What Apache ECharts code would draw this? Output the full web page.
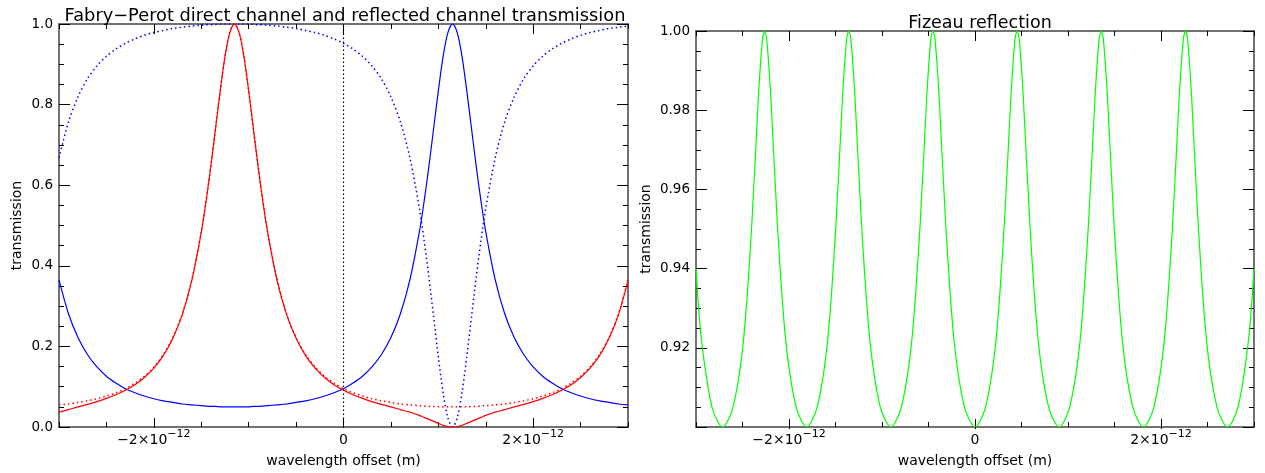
<!DOCTYPE html>
<html>
<head>
<meta charset="utf-8">
<script src="https://cdn.jsdelivr.net/npm/echarts@6.0.0/dist/echarts.min.js"></script>
<style>
  html, body { margin: 0; padding: 0; background: #fff; }
  #chart { width: 1265px; height: 473px; }
</style>
</head>
<body>
<div id="chart"></div>
<script>
// wavelength offset in units of 1e-12 m
const fpX = [-3.0, -2.9, -2.8, -2.7, -2.6, -2.5, -2.4, -2.3, -2.2, -2.1, -2.0, -1.9, -1.8, -1.7, -1.6, -1.5,
  -1.45, -1.4, -1.35, -1.3, -1.25, -1.2, -1.15, -1.1, -1.05, -1.0, -0.95, -0.9, -0.85,
  -0.8, -0.7, -0.6, -0.5, -0.4, -0.3, -0.2, -0.1, 0.0, 0.1, 0.2, 0.3, 0.4, 0.5, 0.6, 0.7, 0.8,
  0.85, 0.9, 0.95, 1.0, 1.05, 1.1, 1.15, 1.2, 1.25, 1.3, 1.35, 1.4, 1.45,
  1.5, 1.6, 1.7, 1.8, 1.9, 2.0, 2.1, 2.2, 2.3, 2.4, 2.5, 2.6, 2.7, 2.8, 2.9, 3.0];

// direct channel (solid red)
const fpRedSolid = [0.037, 0.043, 0.050, 0.056, 0.063, 0.071, 0.080, 0.091, 0.105, 0.123, 0.146, 0.177, 0.220, 0.279, 0.363, 0.483,
  0.559, 0.645, 0.739, 0.834, 0.919, 0.978, 1.000, 0.978, 0.919, 0.834, 0.739, 0.645, 0.559,
  0.483, 0.363, 0.279, 0.220, 0.177, 0.146, 0.123, 0.105, 0.091, 0.080, 0.071, 0.063, 0.056, 0.050, 0.043, 0.037, 0.029,
  0.024, 0.019, 0.014, 0.009, 0.004, 0.001, 0.000, 0.001, 0.004, 0.009, 0.014, 0.019, 0.024,
  0.029, 0.037, 0.043, 0.050, 0.056, 0.063, 0.071, 0.080, 0.091, 0.105, 0.123, 0.146, 0.177, 0.220, 0.279, 0.363];

const fpRedDotted = [0.055, 0.057, 0.061, 0.065, 0.070, 0.077, 0.085, 0.095, 0.109, 0.126, 0.149, 0.180, 0.222, 0.281, 0.365, 0.484,
  0.560, 0.646, 0.740, 0.834, 0.919, 0.978, 1.000, 0.978, 0.919, 0.834, 0.740, 0.646, 0.560,
  0.484, 0.365, 0.281, 0.222, 0.180, 0.149, 0.126, 0.109, 0.095, 0.085, 0.077, 0.070, 0.065, 0.061, 0.057, 0.055, 0.053,
  0.052, 0.051, 0.051, 0.050, 0.050, 0.050, 0.050, 0.050, 0.050, 0.050, 0.051, 0.051, 0.052,
  0.053, 0.055, 0.057, 0.061, 0.065, 0.070, 0.077, 0.085, 0.095, 0.109, 0.126, 0.149, 0.180, 0.222, 0.281, 0.365];

// reflected channel (blue)
const fpBlueSolid = [0.365, 0.281, 0.222, 0.180, 0.149, 0.126, 0.109, 0.095, 0.085, 0.077, 0.070, 0.065, 0.061, 0.057, 0.055, 0.053,
  0.052, 0.051, 0.051, 0.050, 0.050, 0.050, 0.050, 0.050, 0.050, 0.050, 0.051, 0.051, 0.052,
  0.053, 0.055, 0.057, 0.061, 0.065, 0.070, 0.077, 0.085, 0.095, 0.109, 0.126, 0.149, 0.180, 0.222, 0.281, 0.365, 0.484,
  0.560, 0.646, 0.740, 0.834, 0.919, 0.978, 1.000, 0.978, 0.919, 0.834, 0.740, 0.646, 0.560,
  0.484, 0.365, 0.281, 0.222, 0.180, 0.149, 0.126, 0.109, 0.095, 0.085, 0.077, 0.070, 0.065, 0.061, 0.057, 0.055];

const fpBlueDotted = [0.668, 0.757, 0.819, 0.864, 0.896, 0.920, 0.938, 0.952, 0.963, 0.972, 0.979, 0.984, 0.989, 0.992, 0.995, 0.997,
  0.998, 0.998, 0.999, 1.000, 1.000, 1.000, 1.000, 1.000, 1.000, 1.000, 0.999, 0.998, 0.998,
  0.997, 0.995, 0.992, 0.989, 0.984, 0.979, 0.972, 0.963, 0.952, 0.938, 0.920, 0.896, 0.864, 0.819, 0.757, 0.668, 0.543,
  0.463, 0.373, 0.274, 0.174, 0.086, 0.023, 0.000, 0.023, 0.086, 0.174, 0.274, 0.373, 0.463,
  0.543, 0.668, 0.757, 0.819, 0.864, 0.896, 0.920, 0.938, 0.952, 0.963, 0.972, 0.979, 0.984, 0.989, 0.992, 0.995];

// Fizeau reflection (green)
const fzX = [-3.0, -2.941, -2.828, -2.715,
  -2.602, -2.489, -2.398, -2.330, -2.285, -2.263, -2.240, -2.195, -2.127, -2.036, -1.923, -1.810,
  -1.697, -1.584, -1.493, -1.425, -1.380, -1.358, -1.335, -1.290, -1.222, -1.131, -1.018, -0.905,
  -0.792, -0.679, -0.588, -0.520, -0.475, -0.453, -0.430, -0.385, -0.317, -0.226, -0.113, 0.0,
  0.113, 0.226, 0.317, 0.385, 0.430, 0.453, 0.475, 0.520, 0.588, 0.679, 0.792, 0.905,
  1.018, 1.131, 1.222, 1.290, 1.335, 1.358, 1.380, 1.425, 1.493, 1.584, 1.697, 1.810,
  1.923, 2.036, 2.127, 2.195, 2.240, 2.263, 2.285, 2.330, 2.398, 2.489, 2.602, 2.715,
  2.828, 2.941, 3.0];

const fzY = [0.940, 0.922, 0.905, 0.900,
  0.905, 0.922, 0.952, 0.983, 0.998, 1.000, 0.998, 0.983, 0.952, 0.922, 0.905, 0.900,
  0.905, 0.922, 0.952, 0.983, 0.998, 1.000, 0.998, 0.983, 0.952, 0.922, 0.905, 0.900,
  0.905, 0.922, 0.952, 0.983, 0.998, 1.000, 0.998, 0.983, 0.952, 0.922, 0.905, 0.900,
  0.905, 0.922, 0.952, 0.983, 0.998, 1.000, 0.998, 0.983, 0.952, 0.922, 0.905, 0.900,
  0.905, 0.922, 0.952, 0.983, 0.998, 1.000, 0.998, 0.983, 0.952, 0.922, 0.905, 0.900,
  0.905, 0.922, 0.952, 0.983, 0.998, 1.000, 0.998, 0.983, 0.952, 0.922, 0.905, 0.900,
  0.905, 0.922, 0.940];

// x tick labels: mantissa and exponent
const xTickValues = [-2, 0, 2];
const xTickMant = ['\u22122\u00d710', '0', '2\u00d710'];
const xTickExp = ['\u221212', '', '\u221212'];

const FONT = 'DejaVu Sans';
const DOT = [1.5, 3];

function pairs(xs, ys) {
  return xs.map((x, i) => [x, ys[i]]);
}

function xLabel(v) {
  const i = xTickValues.indexOf(Math.round(v * 100) / 100);
  if (i < 0) return '';
  if (!xTickExp[i]) return '{b|' + xTickMant[i] + '}';
  return '{b|' + xTickMant[i] + '}{s|' + xTickExp[i] + '}';
}

const rich = {
  b: { fontSize: 14, lineHeight: 24, fontFamily: FONT, color: '#000' },
  s: { fontSize: 11, padding: [0, 0, 12, 0], fontFamily: FONT, color: '#000' }
};

const frameLine = { show: true, onZero: false, lineStyle: { color: '#444', width: 1.5 } };

// minor x axis (ticks every 0.5, labels at -2, 0, 2)
function xMinor(grid, pos, withLabels) {
  return {
    type: 'value', gridIndex: grid, position: pos, min: -3, max: 3, interval: 0.5,
    axisLine: frameLine,
    axisTick: { show: true, inside: true, length: 5, lineStyle: { color: '#000' } },
    splitLine: { show: false },
    axisLabel: withLabels ? {
      show: true, customValues: xTickValues, formatter: xLabel, rich: rich, margin: 1
    } : { show: false },
    name: withLabels ? 'wavelength offset (m)' : '',
    nameLocation: 'middle', nameGap: 27,
    nameTextStyle: { fontSize: 14, fontFamily: FONT, color: '#000' }
  };
}

// major x ticks at -2, 0, 2 (overlay grid)
function xMajor(grid, pos) {
  return {
    type: 'value', gridIndex: grid, position: pos, min: -3, max: 3,
    axisLine: { show: false, onZero: false },
    axisTick: { show: true, inside: true, length: 10, customValues: xTickValues, lineStyle: { color: '#000' } },
    splitLine: { show: false },
    axisLabel: { show: false }
  };
}

function yAxis(grid, pos, min, max, interval, digits, withLabels, gap) {
  return {
    type: 'value', gridIndex: grid, position: pos, min: min, max: max, interval: interval,
    axisLine: frameLine,
    axisTick: { show: true, inside: true, length: 11, lineStyle: { color: '#000' } },
    minorTick: { show: true, splitNumber: 4, length: 5, lineStyle: { color: '#000' } },
    splitLine: { show: false },
    axisLabel: withLabels ? {
      show: true, margin: 6, fontSize: 13.5, fontFamily: FONT, color: '#000',
      showMinLabel: digits === 1,
      formatter: v => v.toFixed(digits)
    } : { show: false },
    name: withLabels ? 'transmission' : '',
    nameLocation: 'middle', nameGap: gap,
    nameTextStyle: { fontSize: 14, fontFamily: FONT, color: '#000' }
  };
}

const leftGrid = { left: 59, top: 24, width: 569, height: 404 };
const rightGrid = { left: 696, top: 31, width: 558, height: 398 };

const chart = echarts.init(document.getElementById('chart'));

chart.setOption({
  animation: false,
  backgroundColor: '#fff',
  title: [
    { text: 'Fabry\u2212Perot direct channel and reflected channel transmission', left: 340, top: 2, textAlign: 'center',
      textStyle: { fontSize: 17.8, fontWeight: 'normal', fontFamily: FONT, color: '#000' } },
    { text: 'Fizeau reflection', left: 975, top: 9, textAlign: 'center',
      textStyle: { fontSize: 17.5, fontWeight: 'normal', fontFamily: FONT, color: '#000' } }
  ],
  grid: [
    Object.assign({}, leftGrid),
    Object.assign({}, rightGrid),
    Object.assign({}, leftGrid),
    Object.assign({}, rightGrid)
  ],
  xAxis: [
    xMinor(0, 'bottom', true),
    xMinor(0, 'top', false),
    xMinor(1, 'bottom', true),
    xMinor(1, 'top', false),
    xMajor(2, 'bottom'),
    xMajor(2, 'top'),
    xMajor(3, 'bottom'),
    xMajor(3, 'top')
  ],
  yAxis: [
    yAxis(0, 'left', 0, 1, 0.2, 1, true, 35),
    yAxis(0, 'right', 0, 1, 0.2, 1, false, 0),
    yAxis(1, 'left', 0.9, 1.0, 0.02, 2, true, 43),
    yAxis(1, 'right', 0.9, 1.0, 0.02, 2, false, 0),
    { type: 'value', gridIndex: 2, min: 0, max: 1, show: false },
    { type: 'value', gridIndex: 3, min: 0, max: 1, show: false }
  ],
  series: [
    {
      type: 'line', xAxisIndex: 0, yAxisIndex: 0, data: pairs(fpX, fpBlueDotted),
      showSymbol: false, smooth: 0.3, lineStyle: { color: '#0000ff', width: 1.5, type: DOT },
      markLine: {
        silent: true, symbol: ['none', 'none'], label: { show: false },
        lineStyle: { color: '#000', width: 1.2, type: [1.5, 2.5] },
        data: [{ xAxis: 0 }]
      }
    },
    {
      type: 'line', xAxisIndex: 0, yAxisIndex: 0, data: pairs(fpX, fpRedDotted),
      showSymbol: false, smooth: 0.3, lineStyle: { color: '#ff0000', width: 1.5, type: DOT }
    },
    {
      type: 'line', xAxisIndex: 0, yAxisIndex: 0, data: pairs(fpX, fpBlueSolid),
      showSymbol: false, smooth: 0.3, lineStyle: { color: '#0000ff', width: 1.2 }
    },
    {
      type: 'line', xAxisIndex: 0, yAxisIndex: 0, data: pairs(fpX, fpRedSolid),
      showSymbol: false, smooth: 0.3, lineStyle: { color: '#ff0000', width: 1.2 }
    },
    {
      type: 'line', xAxisIndex: 2, yAxisIndex: 2, data: pairs(fzX, fzY),
      showSymbol: false, smooth: 0.3, lineStyle: { color: '#00ff00', width: 1.2 }
    }
  ]
});
</script>
</body>
</html>
